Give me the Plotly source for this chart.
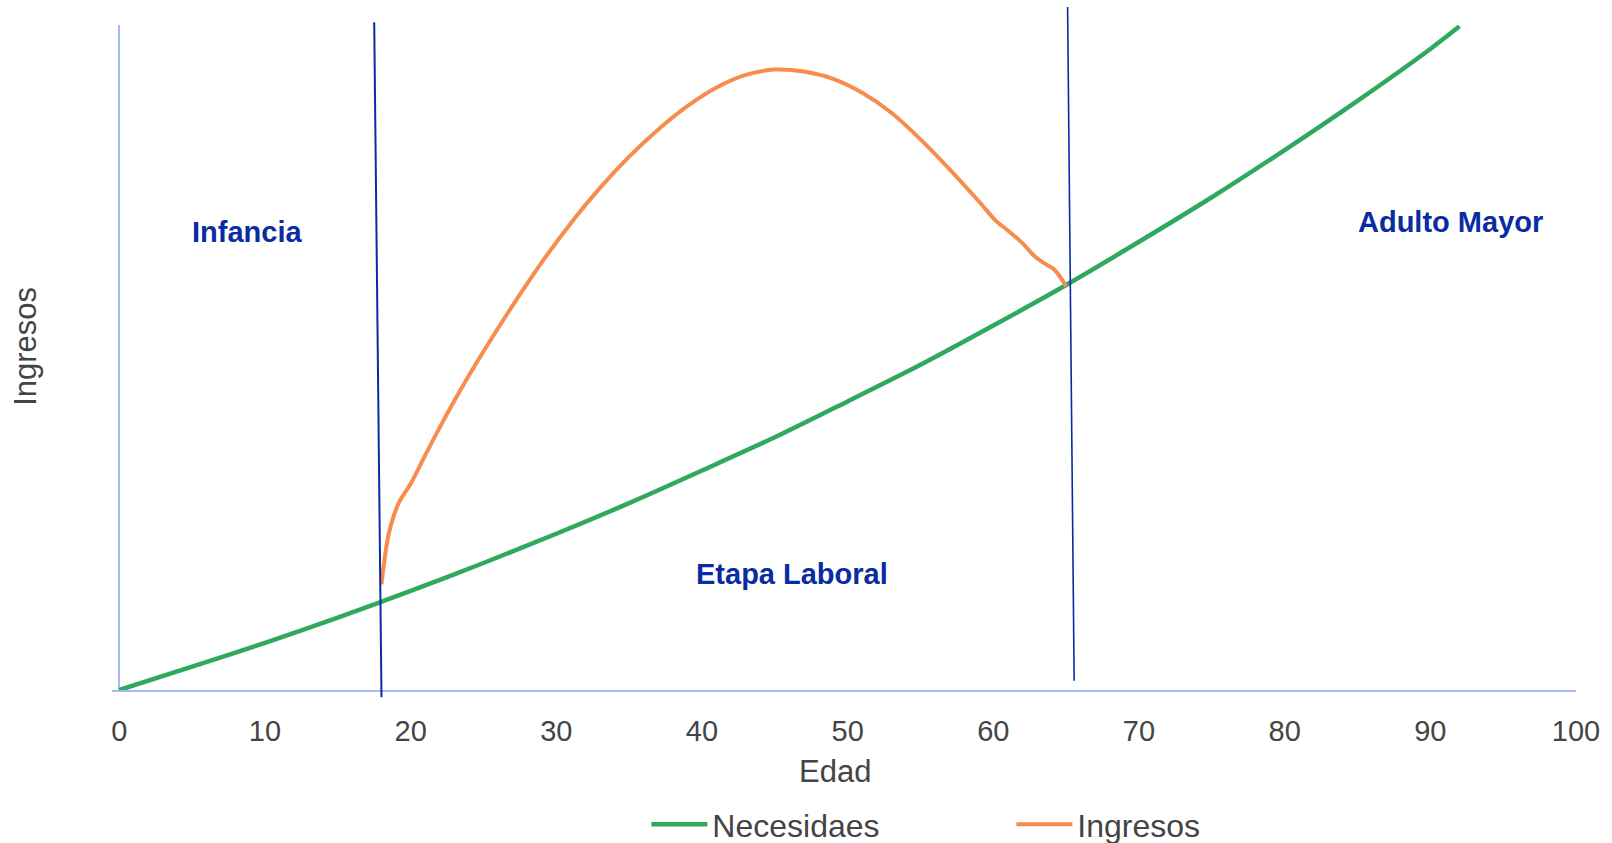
import plotly.graph_objects as go

# Necesidades: ages and values
edad_necesidades = [0, 5, 10, 15, 20, 25, 30, 35, 40, 45, 50, 55, 60, 65, 70, 75, 80, 85, 90, 92]
necesidades = [0.0, 3.5, 7.1, 10.9, 14.9, 19.1, 23.5, 28.1, 33.0, 38.0, 43.4, 48.9,
               54.8, 60.9, 67.4, 74.1, 81.2, 88.6, 96.4, 99.8]

# Ingresos during working life
edad_ingresos = [18.0, 18.5, 19.2, 20.0, 21.0, 22.0, 23.0, 24.0, 25.0, 27.0, 29.0, 31.0,
                 33.0, 35.0, 37.0, 39.0, 41.0, 43.0, 45.0, 47.0, 49.0, 51.0, 53.0, 55.0,
                 57.0, 59.0, 60.2, 61.0, 62.0, 62.8, 63.4, 64.2, 65.0]
ingresos = [15.9, 23.5, 28.2, 31.0, 35.3, 39.5, 43.5, 47.3, 50.9, 57.8, 64.3, 70.2,
            75.5, 80.2, 84.3, 87.8, 90.6, 92.5, 93.3, 93.0, 91.9, 89.8, 86.8, 82.8,
            78.3, 73.5, 70.5, 69.1, 67.2, 65.3, 64.3, 63.2, 60.7]

# Stage boundaries (age at top, age at bottom, top, bottom in fraction of plot height)
limites = [
    dict(x_top=17.5, x_bot=18.0, y_top=1.004, y_bot=-0.011, width=2.0),
    dict(x_top=65.1, x_bot=65.55, y_top=1.027, y_bot=0.014, width=1.6),
]

# Stage labels
etapas = ["Infancia", "Etapa Laboral", "Adulto Mayor"]
etapas_x = [8.78, 46.2, 91.4]
etapas_y = [68.8, 17.4, 70.4]

x_ticks = [0, 10, 20, 30, 40, 50, 60, 70, 80, 90, 100]

VERDE = "#2FA95D"
NARANJA = "#F68D4F"
AZUL = "#0A2CA3"
EJE = "#A5B9F7"
GRIS = "#444444"
FUENTE = "Liberation Sans, Arial, sans-serif"

fig = go.Figure()
fig.add_trace(go.Scatter(
    x=edad_necesidades, y=necesidades, mode="lines", name="Necesidaes",
    line=dict(color=VERDE, width=4.5, shape="spline", smoothing=0.8),
))
fig.add_trace(go.Scatter(
    x=edad_ingresos, y=ingresos, mode="lines", name="Ingresos",
    line=dict(color=NARANJA, width=4, shape="spline", smoothing=0.9),
))

for lim in limites:
    fig.add_shape(type="line", xref="x", yref="paper",
                  x0=lim["x_top"], y0=lim["y_top"], x1=lim["x_bot"], y1=lim["y_bot"],
                  line=dict(color=AZUL, width=lim["width"]), layer="above")

for texto, xv, yv in zip(etapas, etapas_x, etapas_y):
    fig.add_annotation(x=xv, y=yv, xref="x", yref="y", text=f"<b>{texto}</b>",
                       showarrow=False, xanchor="center", yanchor="middle",
                       font=dict(family=FUENTE, size=29, color=AZUL))

# Axis titles
fig.add_annotation(x=0.494, y=-0.122, xref="paper", yref="paper", text="Edad",
                   showarrow=False, xanchor="center", yanchor="middle",
                   font=dict(family=FUENTE, size=31, color=GRIS))
fig.add_annotation(x=-0.059, y=0.517, xref="paper", yref="paper", text="Ingresos",
                   textangle=-90, showarrow=False, xanchor="center", yanchor="middle",
                   font=dict(family=FUENTE, size=31, color=GRIS))

fig.update_layout(
    width=1612, height=843,
    margin=dict(l=112, r=36, t=25, b=153, autoexpand=False),
    paper_bgcolor="white", plot_bgcolor="white",
    font=dict(family=FUENTE, color=GRIS),
    showlegend=True,
    legend=dict(orientation="h", x=0.365, xanchor="left", y=-0.2023, yanchor="middle",
                font=dict(family=FUENTE, size=32, color=GRIS),
                itemwidth=56, entrywidth=294, entrywidthmode="pixels",
                bgcolor="rgba(0,0,0,0)"),
)
fig.update_xaxes(
    range=[-0.5, 100], tickvals=x_ticks, ticktext=[str(t) for t in x_ticks],
    automargin=False,
    showgrid=False, showline=True, linecolor=EJE, linewidth=2,
    zeroline=True, zerolinecolor=EJE, zerolinewidth=2,
    ticks="", ticklabelstandoff=14, tickfont=dict(family=FUENTE, size=29, color=GRIS),
)
fig.update_yaxes(
    range=[0, 100], showgrid=False, showline=False, zeroline=False,
    automargin=False, showticklabels=False, ticks="",
)

fig.write_html("out.html")
